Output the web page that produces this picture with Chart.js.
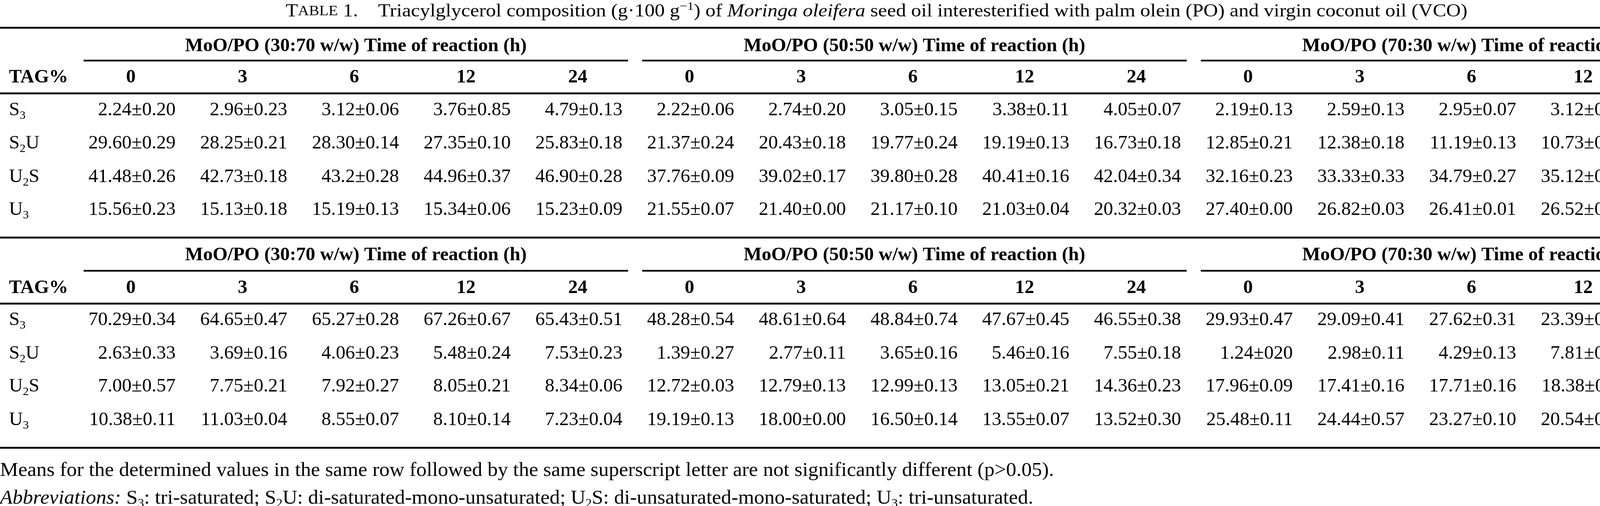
<!DOCTYPE html>
<html>
<head>
<meta charset="utf-8">
<script src="https://cdn.jsdelivr.net/npm/chart.js"></script>
<style>
  html, body { margin: 0; padding: 0; background: #fff; }
  #wrap { width: 4484px; height: 1295px; }
</style>
</head>
<body>
<div id="wrap"><canvas id="tagTable" width="4484" height="1295"></canvas></div>
<script>
// Table data
const times = ['0', '3', '6', '12', '24'];
const blends = ['MoO/PO (30:70 w/w) Time of reaction (h)', 'MoO/PO (50:50 w/w) Time of reaction (h)', 'MoO/PO (70:30 w/w) Time of reaction (h)'];
const tagClasses = [['S', '3', ''], ['S', '2', 'U'], ['U', '2', 'S'], ['U', '3', '']];

// first block (palm olein)
const poS3  = ['2.24±0.20', '2.96±0.23', '3.12±0.06', '3.76±0.85', '4.79±0.13', '2.22±0.06', '2.74±0.20', '3.05±0.15', '3.38±0.11', '4.05±0.07', '2.19±0.13', '2.59±0.13', '2.95±0.07', '3.12±0.17', '3.32±0.03'];
const poS2U = ['29.60±0.29', '28.25±0.21', '28.30±0.14', '27.35±0.10', '25.83±0.18', '21.37±0.24', '20.43±0.18', '19.77±0.24', '19.19±0.13', '16.73±0.18', '12.85±0.21', '12.38±0.18', '11.19±0.13', '10.73±0.33', '9.26±0.16'];
const poU2S = ['41.48±0.26', '42.73±0.18', '43.2±0.28', '44.96±0.37', '46.90±0.28', '37.76±0.09', '39.02±0.17', '39.80±0.28', '40.41±0.16', '42.04±0.34', '32.16±0.23', '33.33±0.33', '34.79±0.27', '35.12±0.17', '35.77±0.24'];
const poU3  = ['15.56±0.23', '15.13±0.18', '15.19±0.13', '15.34±0.06', '15.23±0.09', '21.55±0.07', '21.40±0.00', '21.17±0.10', '21.03±0.04', '20.32±0.03', '27.40±0.00', '26.82±0.03', '26.41±0.01', '26.52±0.03', '27.40±0.01'];

// second block (virgin coconut oil)
const vcoS3  = ['70.29±0.34', '64.65±0.47', '65.27±0.28', '67.26±0.67', '65.43±0.51', '48.28±0.54', '48.61±0.64', '48.84±0.74', '47.67±0.45', '46.55±0.38', '29.93±0.47', '29.09±0.41', '27.62±0.31', '23.39±0.27', '23.96±0.51'];
const vcoS2U = ['2.63±0.33', '3.69±0.16', '4.06±0.23', '5.48±0.24', '7.53±0.23', '1.39±0.27', '2.77±0.11', '3.65±0.16', '5.46±0.16', '7.55±0.18', '1.24±020', '2.98±0.11', '4.29±0.13', '7.81±0.07', '8.71±0.16'];
const vcoU2S = ['7.00±0.57', '7.75±0.21', '7.92±0.27', '8.05±0.21', '8.34±0.06', '12.72±0.03', '12.79±0.13', '12.99±0.13', '13.05±0.21', '14.36±0.23', '17.96±0.09', '17.41±0.16', '17.71±0.16', '18.38±0.11', '18.46±0.23'];
const vcoU3  = ['10.38±0.11', '11.03±0.04', '8.55±0.07', '8.10±0.14', '7.23±0.04', '19.19±0.13', '18.00±0.00', '16.50±0.14', '13.55±0.07', '13.52±0.30', '25.48±0.11', '24.44±0.57', '23.27±0.10', '20.54±0.06', '18.75±0.07'];

// column keys: one per blend x time
const colKeys = [];
blends.forEach((b, g) => times.forEach(t => colKeys.push('g' + g + 't' + t)));

// vertical layout (page rows)
const layout = {
  title: 30, footA: 1205, footB: 1276,
  blocks: [
    { top: 71, group: 118, under: 155, head: 198, rule: 239, rows: [282, 367, 453, 537], values: [poS3, poS2U, poU2S, poU3] },
    { top: 608, group: 653, under: 693, head: 737, rule: 777, rows: [819, 905, 989, 1075], values: [vcoS3, vcoS2U, vcoU2S, vcoU3] }
  ],
  bottom: 1146
};

const SERIF = '"Liberation Serif", "DejaVu Serif", serif';
const BODY = 49;
const TITLE = 46;
const FOOT = 50;

function font(size, bold, italic) {
  return (italic ? 'italic ' : '') + (bold ? 'bold ' : '') + size + 'px ' + SERIF;
}

// draw a list of text runs {t, size, bold, italic, dy}, sx = horizontal stretch
function drawRuns(ctx, runs, x, y, align, sx) {
  sx = sx || 1;
  let w = 0;
  runs.forEach(r => { ctx.font = font(r.size, r.bold, r.italic); r.w = ctx.measureText(r.t).width * sx; w += r.w; });
  let cx = align === 'center' ? x - w / 2 : align === 'right' ? x - w : x;
  ctx.textAlign = 'left';
  ctx.textBaseline = 'middle';
  runs.forEach(r => {
    ctx.font = font(r.size, r.bold, r.italic);
    ctx.save();
    ctx.translate(cx, y + (r.dy || 0));
    ctx.scale(sx, 1);
    ctx.fillText(r.t, 0, 0);
    ctx.restore();
    cx += r.w;
  });
}

function tagRuns(c, size) {
  const runs = [{ t: c[0], size: size }, { t: c[1], size: size * 0.62, dy: size * 0.28 }];
  if (c[2]) runs.push({ t: c[2], size: size });
  return runs;
}

function hrule(ctx, x1, x2, y, w) {
  ctx.fillStyle = '#9a9a9a';
  ctx.fillRect(x1, y - w / 2 - 1, x2 - x1, w + 2);
  ctx.fillStyle = '#000';
  ctx.fillRect(x1, y - w / 2, x2 - x1, w);
}

// one dataset per table row, points at (column, row)
const datasets = [];
layout.blocks.forEach((blk, b) => {
  blk.values.forEach((vals, r) => {
    datasets.push({
      label: 'b' + b + 'r' + r,
      data: vals.map((v, i) => ({ x: colKeys[i], y: blk.rows[r], txt: v })),
      pointRadius: 0,
      showLine: false
    });
  });
});

const tablePlugin = {
  id: 'tablePlugin',
  afterDatasetsDraw(chart) {
    const ctx = chart.ctx;
    const xs = chart.scales.x, ys = chart.scales.y;
    const step = xs.getPixelForValue(1) - xs.getPixelForValue(0);
    ctx.save();
    ctx.fillStyle = '#000';

    // title
    drawRuns(ctx, [
      { t: 'T', size: TITLE }, { t: 'ABLE', size: TITLE * 0.76 }, { t: ' 1.    Triacylglycerol composition (g·100 g', size: TITLE },
      { t: '−1', size: TITLE * 0.65, dy: -13 }, { t: ') of ', size: TITLE }, { t: 'Moringa oleifera', size: TITLE, italic: true },
      { t: ' seed oil interesterified with palm olein (PO) and virgin coconut oil (VCO)', size: TITLE }
    ], 2244, ys.getPixelForValue(layout.title), 'center', 1.12);

    layout.blocks.forEach(blk => {
      hrule(ctx, 0, chart.width, ys.getPixelForValue(blk.top), 4);
      blends.forEach((name, g) => {
        const l = xs.getPixelForValue(g * 5) - step / 2 + 22;
        const r = Math.min(chart.width, xs.getPixelForValue(g * 5 + 4) + step / 2 - 14);
        drawRuns(ctx, [{ t: name, size: BODY, bold: true }], (l + r) / 2, ys.getPixelForValue(blk.group), 'center');
        hrule(ctx, l, r, ys.getPixelForValue(blk.under), 3.5);
      });
      drawRuns(ctx, [{ t: 'TAG%', size: BODY, bold: true }], 23, ys.getPixelForValue(blk.head), 'left');
      colKeys.forEach((k, i) => {
        drawRuns(ctx, [{ t: times[i % 5], size: BODY, bold: true }], xs.getPixelForValue(i), ys.getPixelForValue(blk.head), 'center');
      });
      hrule(ctx, 0, chart.width, ys.getPixelForValue(blk.rule), 4);
      blk.rows.forEach((ry, r) => drawRuns(ctx, tagRuns(tagClasses[r], BODY), 23, ys.getPixelForValue(ry), 'left'));
    });
    hrule(ctx, 0, chart.width, ys.getPixelForValue(layout.bottom), 4);

    // cells
    chart.data.datasets.forEach((ds, d) => {
      chart.getDatasetMeta(d).data.forEach((pt, i) => {
        drawRuns(ctx, [{ t: ds.data[i].txt, size: BODY }], pt.x + step * 0.40, pt.y, 'right');
      });
    });

    // footnotes
    drawRuns(ctx, [{ t: 'Means for the determined values in the same row followed by the same superscript letter are not significantly different (p>0.05).', size: FOOT }],
      0, ys.getPixelForValue(layout.footA), 'left', 1.05);
    const foot = [{ t: 'Abbreviations:', size: FOOT, italic: true }, { t: ' ', size: FOOT }];
    const names = ['tri-saturated', 'di-saturated-mono-unsaturated', 'di-unsaturated-mono-saturated', 'tri-unsaturated'];
    tagClasses.forEach((c, r) => {
      tagRuns(c, FOOT).forEach(run => foot.push(run));
      foot.push({ t: ': ' + names[r] + (r < 3 ? '; ' : '.'), size: FOOT });
    });
    drawRuns(ctx, foot, 0, ys.getPixelForValue(layout.footB), 'left', 1.05);
    ctx.restore();
  }
};

new Chart(document.getElementById('tagTable').getContext('2d'), {
  type: 'scatter',
  data: { datasets: datasets },
  options: {
    responsive: false,
    animation: false,
    devicePixelRatio: 1,
    layout: { padding: { left: 192, right: 2, top: 0, bottom: 0 } },
    plugins: { legend: { display: false }, tooltip: { enabled: false } },
    scales: {
      x: { type: 'category', labels: colKeys, offset: true, display: false },
      y: { type: 'linear', min: 0, max: 1295, reverse: true, display: false }
    }
  },
  plugins: [tablePlugin]
});
</script>
</body>
</html>
